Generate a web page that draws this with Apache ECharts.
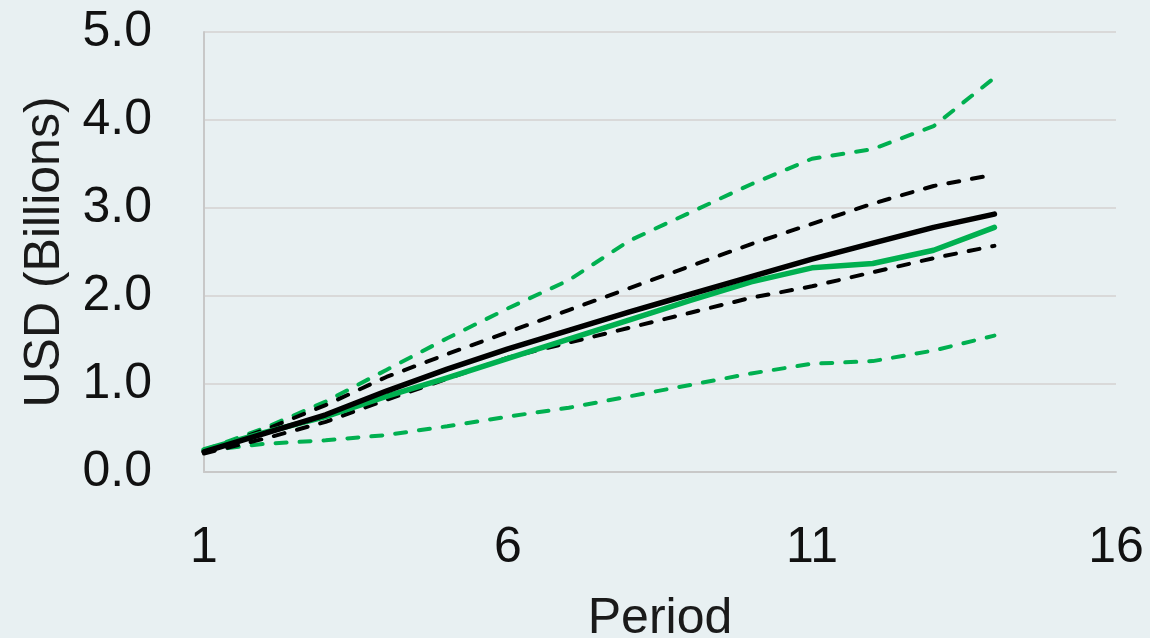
<!DOCTYPE html>
<html>
<head>
<meta charset="utf-8">
<script src="https://cdn.jsdelivr.net/npm/echarts@6/dist/echarts.min.js"></script>
<style>
html,body{margin:0;padding:0;background:#e8f0f2;}
#chart{width:1150px;height:638px;}
</style>
</head>
<body>
<div id="chart"></div>
<script>
const periods = [1,2,3,4,5,6,7,8,9,10,11,12,13,14];
const blackMean  = [0.23,0.44,0.65,0.92,1.17,1.40,1.61,1.82,2.02,2.22,2.42,2.60,2.78,2.93];
const blackUpper = [0.23,0.48,0.76,1.08,1.34,1.59,1.84,2.09,2.34,2.59,2.82,3.05,3.25,3.38];
const blackLower = [0.21,0.38,0.57,0.82,1.06,1.30,1.47,1.64,1.81,1.98,2.11,2.27,2.43,2.57];
const greenMean  = [0.25,0.45,0.63,0.86,1.07,1.29,1.51,1.73,1.95,2.16,2.32,2.37,2.52,2.78];
const greenUpper = [0.25,0.50,0.80,1.16,1.52,1.86,2.18,2.63,2.95,3.27,3.56,3.67,3.93,4.48];
const greenLower = [0.24,0.32,0.36,0.42,0.52,0.63,0.73,0.86,0.99,1.12,1.23,1.26,1.38,1.55];
const xTicks = [1,6,11,16];
const yTicks = [0,1,2,3,4,5];

const BLACK = '#000000', GREEN = '#00b050';
function pairs(v){ return periods.map((p,i)=>[p,v[i]]); }
function line(name, data, color, dashed){
  return {
    name, type:'line', data:pairs(data), symbol:'none', smooth:false,
    lineStyle: dashed
      ? {color, width:4, type:[11,13], cap:'round'}
      : {color, width:5.5, cap:'round', join:'round'},
    z: dashed ? 2 : 3
  };
}
const chart = echarts.init(document.getElementById('chart'));
const font = '"Liberation Sans", Arial, sans-serif';
chart.setOption({
  backgroundColor:'#e8f0f2',
  animation:false,
  grid:{left:204,right:34,top:32,bottom:166,containLabel:false,outerBoundsMode:'none'},
  xAxis:{
    type:'value', min:1, max:16, interval:5,
    name:'Period', nameLocation:'middle', nameGap:122,
    nameTextStyle:{fontFamily:font, fontSize:50, color:'#1a1a1a'},
    axisLine:{show:true, lineStyle:{color:'#c8c8c8', width:2}},
    axisTick:{show:false},
    splitLine:{show:false},
    axisLabel:{fontFamily:font, fontSize:50, color:'#111', margin:51,
      formatter:v=>xTicks.includes(v)?String(v):''}
  },
  yAxis:{
    type:'value', min:0, max:5, interval:1,
    name:'USD (Billions)', nameLocation:'middle', nameGap:134,
    nameTextStyle:{fontFamily:font, fontSize:50, color:'#1a1a1a'},
    axisLine:{show:true, lineStyle:{color:'#c8c8c8', width:2}},
    axisTick:{show:false},
    splitLine:{show:true, lineStyle:{color:'#d9d9d9', width:2}},
    axisLabel:{fontFamily:font, fontSize:50, color:'#111', margin:52,
      formatter:v=>yTicks.includes(v)?v.toFixed(1):''}
  },
  series:[
    line('Green Lower', greenLower, GREEN, true),
    line('Green Upper', greenUpper, GREEN, true),
    line('Black Lower', blackLower, BLACK, true),
    line('Black Upper', blackUpper, BLACK, true),
    line('Green Mean', greenMean, GREEN, false),
    line('Black Mean', blackMean, BLACK, false)
  ]
});
</script>
</body>
</html>
